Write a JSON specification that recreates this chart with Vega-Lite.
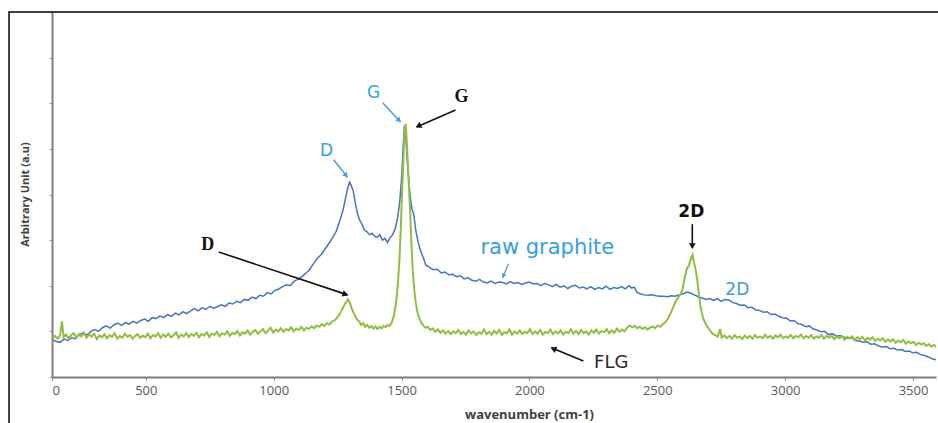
{
"$schema": "https://vega.github.io/schema/vega-lite/v6.json",
"width": 884, "height": 365,
"autosize": {"type": "none"},
"padding": {"left": 52, "top": 12, "right": 2, "bottom": 46},
"background": "white",
"config": {"view": {"stroke": null}},
"datasets": {
"blue": [
[137,0.81],[150,0.78],[165,0.76],[180,0.83],[195,0.80],[210,0.86],[225,0.84],[240,0.93],[255,0.97],[270,0.92],[285,1.00],[300,1.04],[315,1.00],[330,1.08],[345,1.12],[360,1.07],[375,1.14],[390,1.18],[405,1.13],[420,1.19],[435,1.16],[450,1.22],[465,1.18],[480,1.24],[495,1.27],[510,1.22],[525,1.30],[540,1.28],[555,1.34],[570,1.30],[585,1.37],[600,1.33],[615,1.40],[630,1.36],[645,1.43],[660,1.39],[675,1.45],[690,1.50],[705,1.45],[720,1.52],[735,1.48],[750,1.55],[765,1.51],[780,1.54],[795,1.58],[810,1.55],[825,1.62],[840,1.60],[855,1.66],[870,1.63],[885,1.70],[900,1.68],[915,1.75],[930,1.72],[945,1.79],[960,1.77],[975,1.85],[990,1.82],[1005,1.90],[1020,1.93],[1035,1.98],[1050,2.02],[1065,2.00],[1080,2.10],[1095,2.14],[1110,2.20],[1125,2.27],[1140,2.35],[1155,2.48],[1170,2.60],[1185,2.68],[1200,2.80],[1215,2.92],[1230,3.05],[1245,3.20],[1260,3.45],[1272,3.68],[1282,3.95],[1290,4.15],[1297,4.27],[1304,4.18],[1311,4.08],[1318,3.85],[1326,3.62],[1335,3.45],[1345,3.35],[1355,3.22],[1365,3.18],[1375,3.12],[1385,3.15],[1395,3.08],[1405,3.06],[1415,3.12],[1425,3.00],[1435,3.04],[1445,2.95],[1455,3.05],[1465,3.12],[1475,3.25],[1485,3.50],[1493,3.85],[1500,4.35],[1506,5.00],[1511,5.50],[1515,5.40],[1520,4.95],[1526,4.45],[1533,4.00],[1540,3.70],[1548,3.55],[1556,3.20],[1565,2.95],[1575,2.75],[1585,2.62],[1595,2.45],[1605,2.42],[1615,2.38],[1625,2.35],[1640,2.36],[1655,2.28],[1670,2.30],[1685,2.24],[1700,2.25],[1715,2.20],[1730,2.22],[1745,2.15],[1760,2.18],[1775,2.12],[1790,2.10],[1805,2.14],[1820,2.08],[1835,2.06],[1850,2.10],[1865,2.05],[1880,2.08],[1895,2.07],[1910,2.04],[1925,2.09],[1940,2.05],[1955,2.07],[1970,2.03],[1985,2.06],[2000,2.08],[2015,2.04],[2030,2.05],[2045,2.00],[2060,2.05],[2075,2.02],[2090,1.98],[2105,2.03],[2120,1.97],[2135,2.00],[2150,1.94],[2165,1.99],[2180,2.01],[2195,1.95],[2210,1.97],[2225,1.93],[2240,1.98],[2255,1.92],[2270,1.96],[2285,1.93],[2300,1.99],[2315,1.92],[2330,1.96],[2345,1.94],[2360,1.98],[2375,1.93],[2390,2.00],[2400,1.95],[2410,1.97],[2420,1.86],[2435,1.82],[2450,1.80],[2465,1.79],[2480,1.80],[2495,1.78],[2510,1.77],[2525,1.77],[2540,1.76],[2555,1.78],[2570,1.77],[2585,1.80],[2600,1.82],[2615,1.86],[2630,1.84],[2645,1.80],[2660,1.76],[2675,1.73],[2690,1.70],[2705,1.72],[2720,1.68],[2735,1.72],[2750,1.66],[2765,1.70],[2780,1.69],[2795,1.63],[2810,1.61],[2825,1.57],[2840,1.58],[2855,1.52],[2870,1.53],[2885,1.47],[2900,1.46],[2915,1.42],[2930,1.43],[2945,1.37],[2960,1.38],[2975,1.33],[2990,1.30],[3005,1.29],[3020,1.23],[3035,1.24],[3050,1.17],[3065,1.15],[3080,1.10],[3095,1.12],[3110,1.05],[3125,1.03],[3140,0.99],[3155,1.00],[3170,0.93],[3185,0.95],[3200,0.90],[3215,0.91],[3230,0.87],[3245,0.85],[3260,0.86],[3275,0.80],[3290,0.79],[3305,0.76],[3320,0.77],[3335,0.72],[3350,0.73],[3365,0.68],[3380,0.66],[3395,0.67],[3410,0.62],[3425,0.63],[3440,0.59],[3455,0.60],[3470,0.56],[3485,0.57],[3500,0.53],[3515,0.54],[3530,0.49],[3545,0.47],[3560,0.44],[3575,0.40],[3590,0.38]
],
"green": [
[137,0.86],[145,0.90],[155,0.84],[165,0.92],[172,1.22],[178,0.88],[188,0.93],[198,0.85],[208,0.92],[218,0.96],[228,0.87],[238,0.94],[248,0.89],[258,0.97],[268,0.86],[278,0.93],[288,0.88],[298,0.95],[308,0.83],[318,0.91],[328,0.87],[338,0.94],[348,0.85],[358,0.92],[368,0.88],[378,0.96],[388,0.84],[398,0.90],[408,0.86],[418,0.95],[428,0.88],[438,0.92],[448,0.84],[458,0.90],[468,0.94],[478,0.86],[488,0.91],[498,0.87],[508,0.95],[518,0.85],[528,0.92],[538,0.89],[548,0.96],[558,0.86],[568,0.93],[578,0.88],[588,0.95],[598,0.87],[608,0.91],[618,0.98],[628,0.86],[638,0.93],[648,0.89],[658,0.96],[668,0.88],[678,0.94],[688,0.90],[698,0.97],[708,0.87],[718,0.94],[728,0.91],[738,0.98],[748,0.88],[758,0.95],[768,0.92],[778,0.99],[788,0.89],[798,0.96],[808,0.93],[818,1.00],[828,0.90],[838,0.97],[848,0.94],[858,1.01],[868,0.91],[878,0.98],[888,0.95],[898,1.02],[908,0.93],[918,0.99],[928,1.03],[938,0.95],[948,1.00],[958,1.05],[968,0.96],[978,1.02],[988,1.08],[998,0.97],[1008,1.04],[1018,1.00],[1028,1.07],[1038,0.99],[1048,1.05],[1058,1.02],[1068,1.09],[1078,1.00],[1088,1.06],[1098,1.03],[1108,1.10],[1118,1.02],[1128,1.08],[1138,1.05],[1148,1.11],[1158,1.07],[1168,1.13],[1178,1.10],[1188,1.16],[1198,1.12],[1208,1.18],[1218,1.15],[1228,1.22],[1238,1.24],[1248,1.30],[1258,1.38],[1266,1.46],[1274,1.55],[1282,1.63],[1290,1.70],[1297,1.64],[1304,1.52],[1311,1.42],[1318,1.34],[1326,1.26],[1334,1.22],[1342,1.14],[1350,1.18],[1358,1.10],[1366,1.14],[1374,1.08],[1382,1.12],[1390,1.06],[1398,1.11],[1406,1.05],[1414,1.10],[1422,1.07],[1430,1.12],[1438,1.09],[1446,1.14],[1454,1.12],[1462,1.20],[1470,1.35],[1478,1.60],[1486,2.05],[1492,2.60],[1498,3.40],[1503,4.20],[1508,4.90],[1512,5.40],[1516,5.55],[1520,5.20],[1524,4.75],[1528,4.30],[1533,3.70],[1538,3.00],[1543,2.40],[1549,1.95],[1555,1.65],[1562,1.42],[1570,1.28],[1578,1.18],[1586,1.12],[1594,1.08],[1602,1.10],[1612,1.03],[1622,1.06],[1632,0.99],[1642,1.04],[1652,0.97],[1662,1.02],[1672,0.95],[1682,1.01],[1692,0.94],[1702,1.00],[1712,0.96],[1722,1.03],[1732,0.94],[1742,0.99],[1752,0.93],[1762,1.02],[1772,0.95],[1782,1.00],[1792,0.92],[1802,0.98],[1812,0.95],[1822,1.04],[1832,0.94],[1842,0.99],[1852,0.93],[1862,1.01],[1872,0.95],[1882,1.03],[1892,0.92],[1902,0.98],[1912,0.96],[1922,1.04],[1932,0.93],[1942,1.00],[1952,0.95],[1962,1.02],[1972,0.94],[1982,0.99],[1992,0.96],[2002,1.05],[2012,0.94],[2022,1.00],[2032,0.95],[2042,1.03],[2052,0.93],[2062,0.99],[2072,0.96],[2082,1.04],[2092,0.94],[2102,1.00],[2112,0.95],[2122,1.02],[2132,0.93],[2142,0.99],[2152,0.96],[2162,1.05],[2172,0.95],[2182,1.01],[2192,0.94],[2202,1.03],[2212,0.96],[2222,1.00],[2232,0.93],[2242,1.02],[2252,0.97],[2262,1.04],[2272,0.95],[2282,1.01],[2292,0.98],[2302,1.05],[2312,0.96],[2322,1.02],[2332,0.97],[2342,1.06],[2352,0.99],[2362,1.04],[2372,1.00],[2382,1.08],[2392,1.13],[2402,1.09],[2412,1.12],[2422,1.07],[2432,1.10],[2442,1.05],[2452,1.09],[2462,1.04],[2472,1.08],[2482,1.11],[2492,1.07],[2502,1.13],[2512,1.10],[2522,1.16],[2532,1.20],[2542,1.28],[2552,1.40],[2562,1.52],[2572,1.66],[2582,1.75],[2592,1.82],[2600,1.95],[2608,2.20],[2616,2.38],[2624,2.45],[2632,2.60],[2638,2.68],[2644,2.50],[2650,2.35],[2656,2.15],[2662,1.85],[2668,1.58],[2674,1.40],[2680,1.28],[2688,1.18],[2696,1.10],[2706,1.02],[2716,0.95],[2726,0.92],[2736,0.88],[2746,1.05],[2752,0.86],[2762,0.91],[2772,0.85],[2782,0.90],[2792,0.84],[2802,0.92],[2812,0.86],[2822,0.89],[2832,0.83],[2842,0.91],[2852,0.85],[2862,0.90],[2872,0.84],[2882,0.92],[2892,0.86],[2902,0.89],[2912,0.85],[2922,0.93],[2932,0.86],[2942,0.90],[2952,0.84],[2962,0.91],[2972,0.87],[2982,0.93],[2992,0.85],[3002,0.89],[3012,0.86],[3022,0.92],[3032,0.85],[3042,0.90],[3052,0.87],[3062,0.93],[3072,0.85],[3082,0.90],[3092,0.86],[3102,0.92],[3112,0.84],[3122,0.89],[3132,0.86],[3142,0.92],[3152,0.84],[3162,0.90],[3172,0.86],[3182,0.91],[3192,0.83],[3202,0.89],[3212,0.85],[3222,0.90],[3232,0.82],[3242,0.88],[3252,0.85],[3262,0.89],[3272,0.81],[3282,0.87],[3292,0.83],[3302,0.88],[3312,0.80],[3322,0.86],[3332,0.82],[3342,0.87],[3352,0.79],[3362,0.84],[3372,0.80],[3382,0.85],[3392,0.77],[3402,0.82],[3412,0.78],[3422,0.83],[3432,0.75],[3442,0.80],[3452,0.76],[3462,0.81],[3472,0.73],[3482,0.78],[3492,0.74],[3502,0.77],[3512,0.70],[3522,0.75],[3532,0.71],[3542,0.74],[3552,0.68],[3562,0.72],[3572,0.67],[3582,0.70],[3590,0.66]
]
},
"layer": [
{
"data": {"values": [{"x": -35, "x2": 3620, "y": 8, "y2": -2}]},
"mark": {"type": "rect", "fill": null, "stroke": "#000000", "strokeWidth": 1.5, "clip": false},
"encoding": {
"x": {"field": "x", "type": "quantitative", "scale": {"domain": [133, 3590], "nice": false, "zero": false},
"axis": {"values": [133, 500, 1000, 1500, 2000, 2500, 3000, 3500], "format": "d", "labelExpr": "datum.value < 200 ? '0' : datum.label", "title": "wavenumber (cm-1)", "grid": false,
"domainColor": "#7f7f7f", "domainWidth": 2, "tickColor": "#7f7f7f", "tickSize": 3, "labelFont": "Open Sans", "labelFontSize": 13, "labelColor": "#595959", "labelPadding": 4,
"titleFont": "Open Sans", "titleFontSize": 13, "titleFontWeight": "bold", "titleColor": "#404040", "titleX": 477, "titleY": 41, "titleBaseline": "alphabetic"}},
"x2": {"field": "x2"},
"y": {"field": "y", "type": "quantitative", "scale": {"domain": [0, 8], "nice": false, "zero": false},
"axis": {"values": [0, 1, 2, 3, 4, 5, 6, 7, 8], "labels": false, "grid": false, "title": "Arbitrary Unit (a.u)",
"domainColor": "#7f7f7f", "domainWidth": 2, "tickColor": "#9a9a9a", "tickSize": 3,
"titleFont": "Open Sans", "titleFontSize": 11, "titleFontWeight": "bold", "titleColor": "#404040", "titleX": -27, "titleY": 182, "titleAngle": 270, "titleAlign": "center", "titleBaseline": "middle"}},
"y2": {"field": "y2"}
}
},
{
"data": {"name": "blue"},
"mark": {"type": "line", "color": "#4673c6", "strokeWidth": 1.5, "interpolate": "linear"},
"encoding": {"x": {"field": "0", "type": "quantitative"}, "y": {"field": "1", "type": "quantitative"}}
},
{
"data": {"name": "green"},
"mark": {"type": "line", "color": "#92bd42", "strokeWidth": 2, "interpolate": "linear"},
"encoding": {"x": {"field": "0", "type": "quantitative"}, "y": {"field": "1", "type": "quantitative"}}
},
{
"data": {"values": [{"x": 785, "y": 2.74, "x2": 1289, "y2": 1.80}, {"x": 1711, "y": 5.85, "x2": 1559, "y2": 5.48}, {"x": 2637, "y": 3.35, "x2": 2637, "y2": 2.83}, {"x": 2211, "y": 0.35, "x2": 2086, "y2": 0.64}]},
"mark": {"type": "rule", "color": "#111111", "strokeWidth": 1.6},
"encoding": {"x": {"field": "x", "type": "quantitative"}, "y": {"field": "y", "type": "quantitative"}, "x2": {"field": "x2"}, "y2": {"field": "y2"}}
},
{
"data": {"values": [{"x": 1426, "y": 6.01, "x2": 1496, "y2": 5.59}, {"x": 1234, "y": 4.76, "x2": 1289, "y2": 4.38}]},
"mark": {"type": "rule", "color": "#4a9fdc", "strokeWidth": 1.5},
"encoding": {"x": {"field": "x", "type": "quantitative"}, "y": {"field": "y", "type": "quantitative"}, "x2": {"field": "x2"}, "y2": {"field": "y2"}}
},
{
"data": {"values": [{"x": 1918, "y": 2.48, "x2": 1895, "y2": 2.17}]},
"mark": {"type": "rule", "color": "#5b8fc9", "strokeWidth": 1.2},
"encoding": {"x": {"field": "x", "type": "quantitative"}, "y": {"field": "y", "type": "quantitative"}, "x2": {"field": "x2"}, "y2": {"field": "y2"}}
},
{"data": {"values": [{"x": 1277, "y": 1.82}]}, "mark": {"type": "point", "shape": "triangle", "filled": true, "color": "#111111", "size": 45, "angle": 108, "opacity": 1},
"encoding": {"x": {"field": "x", "type": "quantitative"}, "y": {"field": "y", "type": "quantitative"}}},
{"data": {"values": [{"x": 1569, "y": 5.51}]}, "mark": {"type": "point", "shape": "triangle", "filled": true, "color": "#111111", "size": 45, "angle": 246, "opacity": 1},
"encoding": {"x": {"field": "x", "type": "quantitative"}, "y": {"field": "y", "type": "quantitative"}}},
{"data": {"values": [{"x": 2637, "y": 2.89}]}, "mark": {"type": "point", "shape": "triangle", "filled": true, "color": "#111111", "size": 45, "angle": 180, "opacity": 1},
"encoding": {"x": {"field": "x", "type": "quantitative"}, "y": {"field": "y", "type": "quantitative"}}},
{"data": {"values": [{"x": 2097, "y": 0.61}]}, "mark": {"type": "point", "shape": "triangle", "filled": true, "color": "#111111", "size": 45, "angle": 292, "opacity": 1},
"encoding": {"x": {"field": "x", "type": "quantitative"}, "y": {"field": "y", "type": "quantitative"}}},
{"data": {"values": [{"x": 1488, "y": 5.64}]}, "mark": {"type": "point", "shape": "triangle", "filled": true, "color": "#4a9fdc", "size": 35, "angle": 136, "opacity": 1},
"encoding": {"x": {"field": "x", "type": "quantitative"}, "y": {"field": "y", "type": "quantitative"}}},
{"data": {"values": [{"x": 1281, "y": 4.43}]}, "mark": {"type": "point", "shape": "triangle", "filled": true, "color": "#4a9fdc", "size": 35, "angle": 142, "opacity": 1},
"encoding": {"x": {"field": "x", "type": "quantitative"}, "y": {"field": "y", "type": "quantitative"}}},
{"data": {"values": [{"x": 1899, "y": 2.23}]}, "mark": {"type": "point", "shape": "triangle", "filled": true, "color": "#5b8fc9", "size": 22, "angle": 203, "opacity": 1},
"encoding": {"x": {"field": "x", "type": "quantitative"}, "y": {"field": "y", "type": "quantitative"}}},
{
"data": {"values": [{"x": 1391, "y": 6.22, "t": "G"}, {"x": 1207, "y": 4.95, "t": "D"}, {"x": 2813, "y": 1.91, "t": "2D"}]},
"mark": {"type": "text", "font": "DejaVu Sans", "fontSize": 17, "color": "#36a0dd", "align": "center", "baseline": "middle"},
"encoding": {"x": {"field": "x", "type": "quantitative"}, "y": {"field": "y", "type": "quantitative"}, "text": {"field": "t"}}
},
{
"data": {"values": [{"x": 2070, "y": 2.83, "t": "raw graphite"}]},
"mark": {"type": "text", "font": "DejaVu Sans", "fontSize": 21, "color": "#36a0dd", "align": "center", "baseline": "middle"},
"encoding": {"x": {"field": "x", "type": "quantitative"}, "y": {"field": "y", "type": "quantitative"}, "text": {"field": "t"}}
},
{
"data": {"values": [{"x": 1734, "y": 6.14, "t": "G"}, {"x": 742, "y": 2.89, "t": "D"}]},
"mark": {"type": "text", "font": "Liberation Serif", "fontSize": 18, "fontWeight": "bold", "color": "#111111", "align": "center", "baseline": "middle"},
"encoding": {"x": {"field": "x", "type": "quantitative"}, "y": {"field": "y", "type": "quantitative"}, "text": {"field": "t"}}
},
{
"data": {"values": [{"x": 2633, "y": 3.62, "t": "2D"}]},
"mark": {"type": "text", "font": "DejaVu Sans", "fontSize": 17, "fontWeight": "bold", "color": "#111111", "align": "center", "baseline": "middle"},
"encoding": {"x": {"field": "x", "type": "quantitative"}, "y": {"field": "y", "type": "quantitative"}, "text": {"field": "t"}}
},
{
"data": {"values": [{"x": 2320, "y": 0.31, "t": "FLG"}]},
"mark": {"type": "text", "font": "DejaVu Sans", "fontSize": 18, "color": "#2a2a2a", "align": "center", "baseline": "middle"},
"encoding": {"x": {"field": "x", "type": "quantitative"}, "y": {"field": "y", "type": "quantitative"}, "text": {"field": "t"}}
}
]
}
